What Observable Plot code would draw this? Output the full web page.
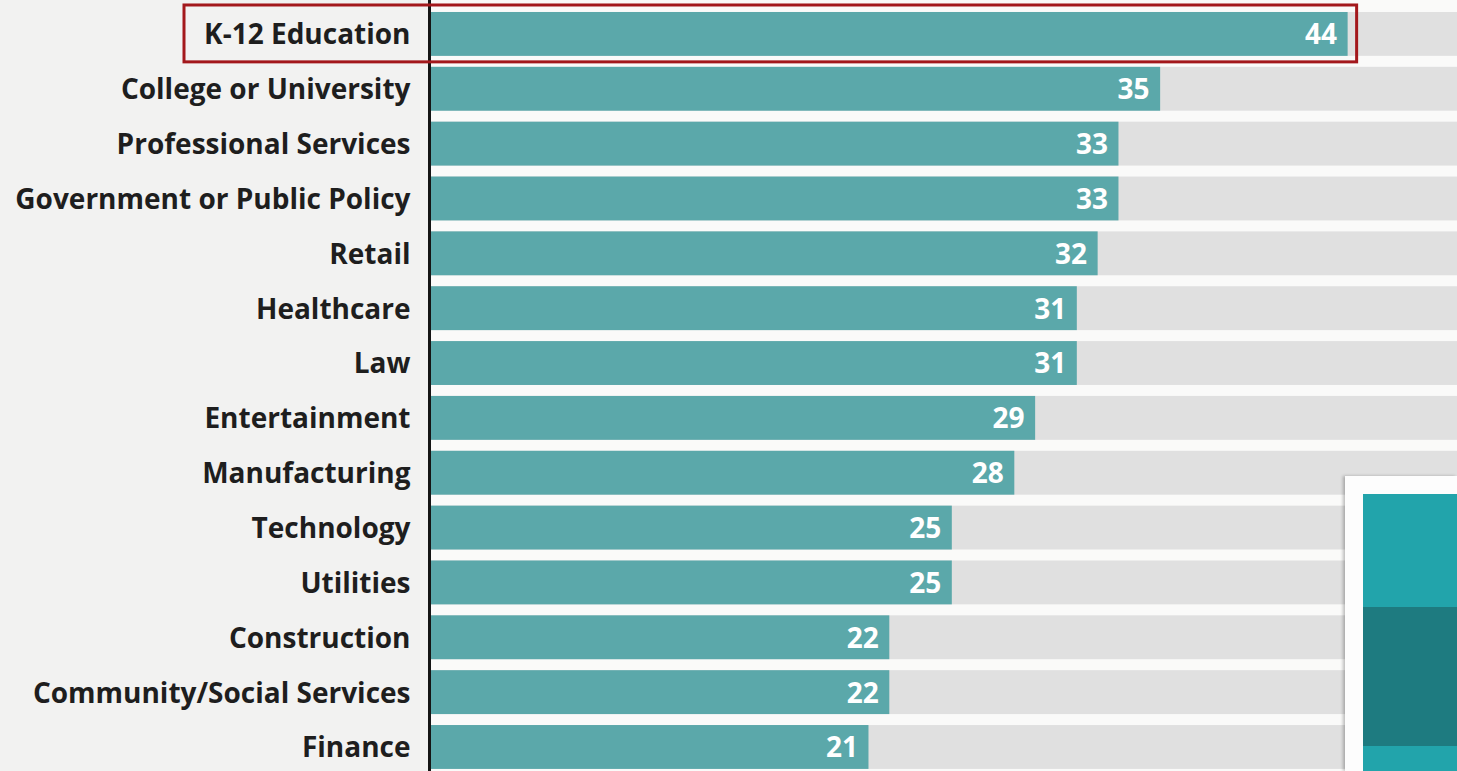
<!DOCTYPE html>
<html>
<head>
<meta charset="utf-8">
<script src="https://cdn.jsdelivr.net/npm/d3@7"></script>
<script src="https://cdn.jsdelivr.net/npm/@observablehq/plot@0.6"></script>
<style>
  html, body { margin: 0; padding: 0; background: #f2f2f1; overflow: hidden; }
  #wrap { position: relative; width: 1457px; height: 771px; }
  #overlay { position: absolute; left: 1345px; top: 476px; width: 112px; height: 295px; background: #fdfdfd; box-shadow: -2px 0 3px rgba(0,0,0,0.25); }
  #overlay .p1 { position: absolute; left: 18px; top: 18px; right: 0; height: 113px; background: #22a4ab; }
  #overlay .p2 { position: absolute; left: 18px; top: 131px; right: 0; height: 139px; background: #1e7b80; }
  #overlay .p3 { position: absolute; left: 18px; top: 270px; right: 0; bottom: 0; background: #22a4ab; }
</style>
</head>
<body>
<div id="wrap">
  <div id="chart"></div>
  <div id="overlay"><div class="p1"></div><div class="p2"></div><div class="p3"></div></div>
</div>
<script>
const categories = [
  "K-12 Education",
  "College or University",
  "Professional Services",
  "Government or Public Policy",
  "Retail",
  "Healthcare",
  "Law",
  "Entertainment",
  "Manufacturing",
  "Technology",
  "Utilities",
  "Construction",
  "Community/Social Services",
  "Finance"
];
const values = [44, 35, 33, 33, 32, 31, 31, 29, 28, 25, 25, 22, 22, 21];
const highlighted = ["K-12 Education"];
const scaleMax = 49.25;

const data = categories.map((c, i) => ({category: c, value: values[i], full: scaleMax}));
const hl = data.filter(d => highlighted.includes(d.category));

const font = "'Open Sans', 'Liberation Sans', sans-serif";

const chart = Plot.plot({
  width: 1457,
  height: 771,
  marginLeft: 431,
  marginRight: 0,
  marginTop: 0,
  marginBottom: 0,
  style: {background: "transparent", fontFamily: font},
  x: {domain: [0, scaleMax], axis: null},
  y: {domain: categories, range: [6.5, 774.4], round: false, paddingInner: 0.2, paddingOuter: 0.1, axis: null},
  marks: [
    Plot.rect([{x1: 0, x2: scaleMax}], {x1: "x1", x2: "x2", fill: "#fafaf9"}),
    Plot.barX(data, {x: "full", y: "category", fill: "#e0e0e0"}),
    Plot.barX(data, {x: "value", y: "category", fill: "#5ba8aa"}),
    Plot.text(data, {
      x: "value", y: "category", text: d => String(d.value),
      textAnchor: "end", dx: -11, dy: 1, fill: "#ffffff",
      fontSize: 28, fontWeight: 700, fontFamily: font
    }),
    Plot.text(data, {
      x: 0, y: "category", text: "category",
      textAnchor: "end", dx: -21, dy: 1, fill: "#1e1e1e",
      fontSize: 28, fontWeight: 700, fontFamily: font
    }),
    Plot.ruleX([0], {stroke: "#151515", strokeWidth: 3, dx: -2}),
    Plot.barX(hl, {
      x1: 0, x2: "value", y: "category",
      fill: "none", stroke: "#a3181c", strokeWidth: 3,
      insetLeft: -247, insetRight: -9, insetTop: -7, insetBottom: -6
    })
  ]
});
document.getElementById("chart").appendChild(chart);
</script>
</body>
</html>
